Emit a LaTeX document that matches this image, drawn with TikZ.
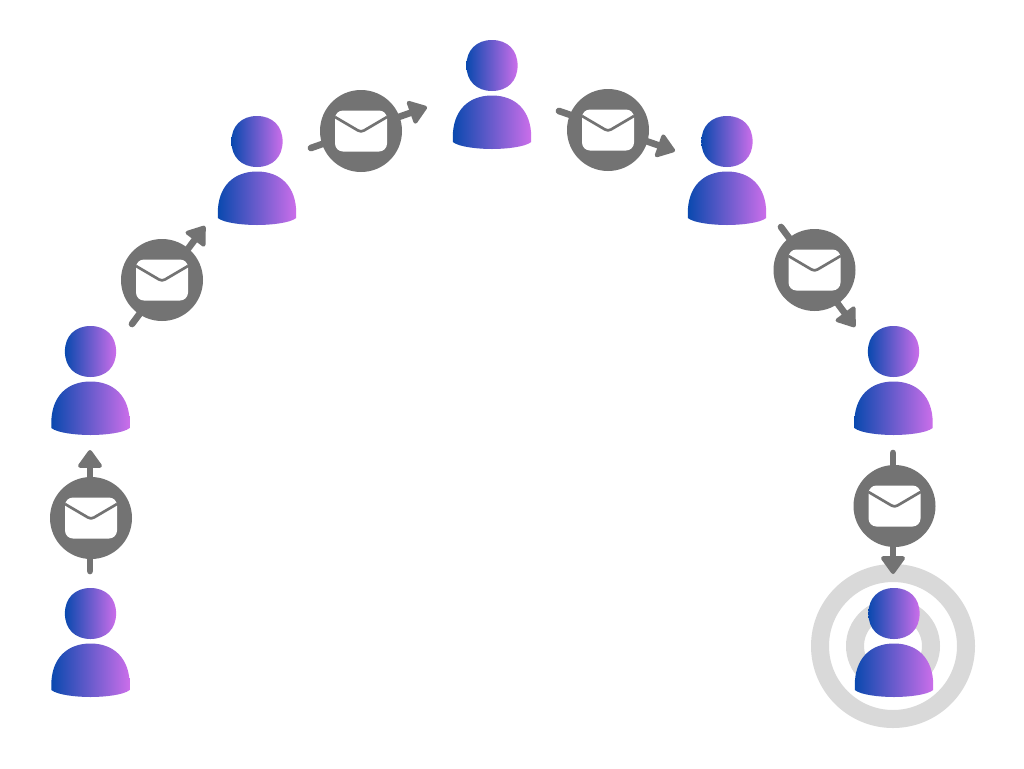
\documentclass[tikz,border=0pt]{standalone}
\usetikzlibrary{arrows.meta}
\definecolor{grayc}{HTML}{737373}
\definecolor{ringc}{HTML}{D9D9D9}
\definecolor{gradl}{HTML}{0A49AF}
\definecolor{gradr}{HTML}{CB6EEA}
\tikzset{
  x=0.75pt,y=-0.75pt,
  grad/.style={left color=gradl,right color=gradr,draw=none},
  flow/.style={draw=grayc,line width=5pt,line cap=round,
    -{Triangle[length=14.5pt,width=20pt,line width=3pt,round]}},
  mailnode/.style={circle,fill=grayc,draw=none,minimum size=61.5pt,inner sep=0pt},
  ring/.style={draw=ringc,line width=13.5pt,fill=none},
  person/.pic={
    \path[grad] (-25.6,25.5) .. controls (-25.6,10) and (-15.5,0) .. (0,0)
      .. controls (15.5,0) and (25.6,10) .. (25.6,25.5)
      .. controls (25.6,41) and (15.5,51) .. (0,51)
      .. controls (-15.5,51) and (-25.6,41) .. (-25.6,25.5) -- cycle;
    \path[grad] (-39.2,97) .. controls (-39.2,71) and (-24,55.5) .. (0,55.5)
      .. controls (24,55.5) and (39.2,71) .. (39.2,97)
      -- (39.2,102) .. controls (33,107) and (14,109) .. (0,109)
      .. controls (-14,109) and (-33,107) .. (-39.2,102) -- cycle;
  },
  envelope/.pic={
    \fill[white,rounded corners=6pt] (-26,-20.5) rectangle (26,20.5);
    \draw[grayc,line width=2pt,line join=round,line cap=butt]
      (-26,-14) -- (-3,-0.5) .. controls (-1,0.7) and (1,0.7) .. (3,-0.5) -- (26,-14);
  }
}
\begin{document}
\begin{tikzpicture}
\useasboundingbox (0,0) rectangle (1024,768);
\fill[white] (0,0) rectangle (1024,768);
\coordinate (c7) at (893,646);
\draw[ring] (c7) circle[radius=73];
\draw[ring] (c7) circle[radius=38];
\coordinate (s1) at (90,571);  \coordinate (e1) at (90,450);
\coordinate (s2) at (132,324); \coordinate (e2) at (205,226);
\coordinate (s3) at (311,148); \coordinate (e3) at (427,107);
\coordinate (s4) at (559,111); \coordinate (e4) at (675,151);
\coordinate (s5) at (781,227); \coordinate (e5) at (855,327);
\coordinate (s6) at (893,453); \coordinate (e6) at (893,574);
\foreach \i in {1,...,6} \draw[flow] (s\i) -- (e\i);
\node[mailnode] (m1) at (91,518) {};
\node[mailnode] (m2) at (162,280) {};
\node[mailnode] (m3) at (361,131) {};
\node[mailnode] (m4) at (608,130) {};
\node[mailnode] (m5) at (814.5,270) {};
\node[mailnode] (m6) at (894.5,506) {};
\foreach \i in {1,...,6} \pic at (m\i) {envelope};
\coordinate (p1) at (90.5,588);
\coordinate (p2) at (90.5,326);
\coordinate (p3) at (257,116);
\coordinate (p4) at (492,40);
\coordinate (p5) at (727,116);
\coordinate (p6) at (893.5,326);
\coordinate (p7) at (894,588);
\foreach \i in {1,...,7} \pic at (p\i) {person};
\end{tikzpicture}
\end{document}
